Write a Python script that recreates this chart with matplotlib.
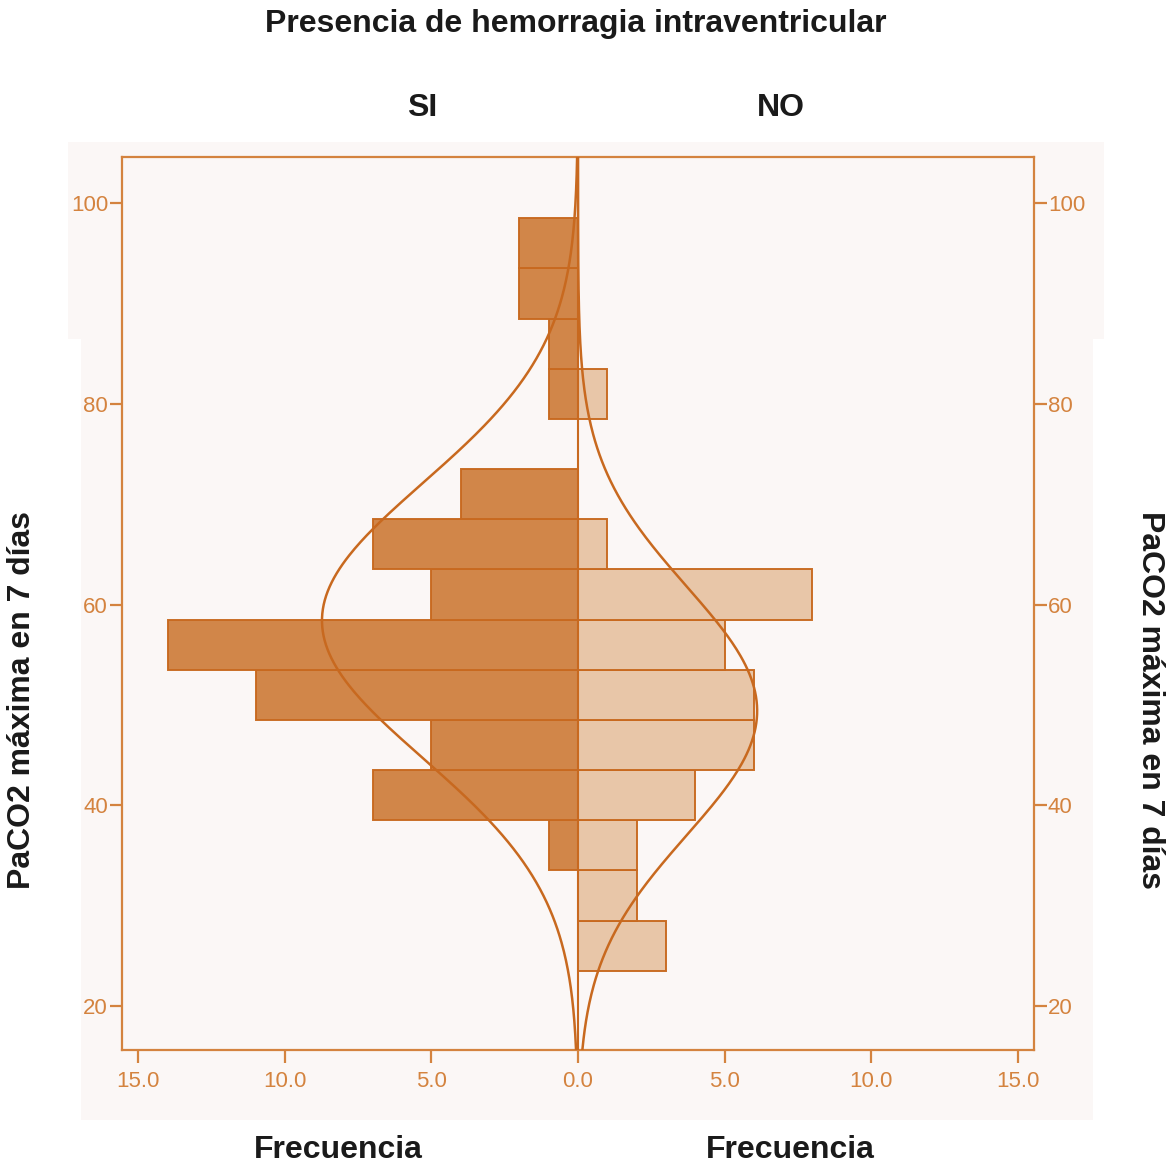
import numpy as np
import matplotlib
matplotlib.use("Agg")
import matplotlib.pyplot as plt
from matplotlib.patches import Rectangle

# PaCO2 bins (width 5), counts per group
bin_centers = [26, 31, 36, 41, 46, 51, 56, 61, 66, 71, 76, 81, 86, 91, 96]
counts_si = [0, 0, 1, 7, 5, 11, 14, 5, 7, 4, 0, 1, 1, 2, 2]
counts_no = [3, 2, 2, 4, 6, 6, 5, 8, 1, 0, 0, 1, 0, 0, 0]
bin_width = 5

# fitted normal curves (mean, sd, n)
norm_si = (58.4, 13.7, 60)
norm_no = (49.4, 12.4, 38)

x_ticks = [-15, -10, -5, 0, 5, 10, 15]
x_labels = ["15.0", "10.0", "5.0", "0.0", "5.0", "10.0", "15.0"]
y_ticks = [20, 40, 60, 80, 100]

ORANGE = "#C8691F"
TICK_COL = "#D4833F"
FACE_SI = "#D08243"
FACE_NO = "#E8C5A6"
PINK = "#FBF7F6"

W, H = 1169, 1166
fig = plt.figure(figsize=(W / 100, H / 100), dpi=100)

def px_rect(x0, y0, x1, y1):
    return Rectangle((x0 / W, 1 - y1 / H), (x1 - x0) / W, (y1 - y0) / H,
                     transform=fig.transFigure, color=PINK, zorder=0, lw=0)

# light pink background patches behind the chart
fig.patches.append(px_rect(68, 142, 1104, 339))
fig.patches.append(px_rect(81, 339, 1093, 1120))

ax = fig.add_axes([122 / W, 1 - 1050 / H, 912 / W, 893 / H])
ax.set_zorder(2)
ax.set_facecolor(PINK)

si = np.array(counts_si)
no = np.array(counts_no)
yc = np.array(bin_centers)
ax.barh(yc[si > 0], -si[si > 0], height=bin_width, color=FACE_SI,
        edgecolor=ORANGE, linewidth=1.4, alpha=0.97, zorder=2)
ax.barh(yc[no > 0], no[no > 0], height=bin_width, color=FACE_NO,
        edgecolor=ORANGE, linewidth=1.4, alpha=0.97, zorder=2)

yy = np.linspace(15.6, 104.6, 400)
for (mu, sd, n), sign in [(norm_si, -1), (norm_no, 1)]:
    dens = n * bin_width * np.exp(-0.5 * ((yy - mu) / sd) ** 2) / (sd * np.sqrt(2 * np.pi))
    ax.plot(sign * dens, yy, color=ORANGE, lw=1.8, zorder=3)

ax.axvline(0, color=ORANGE, lw=1.5, zorder=4)

ax.set_xlim(-15.56, 15.56)
ax.set_ylim(15.6, 104.6)
ax.set_xticks(x_ticks)
ax.set_xticklabels(x_labels)
ax.set_yticks(y_ticks)

for s in ax.spines.values():
    s.set_color(TICK_COL)
    s.set_linewidth(1.6)

tick_font = ["Liberation Sans", "DejaVu Sans"]
ax.tick_params(axis="both", colors=TICK_COL, length=9, width=1.6,
               labelsize=16, direction="out")
ax.tick_params(axis="y", right=True, labelright=True, pad=1)
ax.tick_params(axis="x", pad=6)
for t in ax.xaxis.get_major_ticks():
    t.label1.set_family(tick_font)
for t in ax.yaxis.get_major_ticks():
    t.label1.set_family(tick_font)
    t.label2.set_family(tick_font)
    t.label2.set_color(TICK_COL)

title_kw = dict(fontsize=23, fontweight="bold", family=["Liberation Sans", "DejaVu Sans"],
                color="#1a1a1a", ha="center", va="center")
fig.text(576 / W, 1 - 24 / H, "Presencia de hemorragia intraventricular", **title_kw)
fig.text(422 / W, 1 - 108 / H, "SI", **title_kw)
fig.text(781 / W, 1 - 108 / H, "NO", **title_kw)
fig.text(338 / W, 1 - 1150 / H, "Frecuencia", **title_kw)
fig.text(790 / W, 1 - 1150 / H, "Frecuencia", **title_kw)
fig.text(22 / W, 1 - 700 / H, "PaCO2 máxima en 7 días", rotation=90, **title_kw)
fig.text(1150 / W, 1 - 700 / H, "PaCO2 máxima en 7 días", rotation=270, **title_kw)

fig.savefig("out.png", dpi=100)
